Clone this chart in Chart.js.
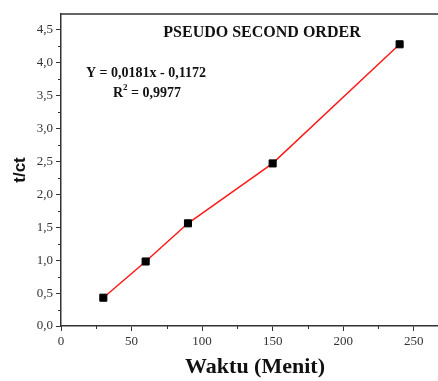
<!DOCTYPE html>
<html>
<head>
<meta charset="utf-8">
<script src="https://cdn.jsdelivr.net/npm/chart.js@4"></script>
<style>
  html, body { margin: 0; padding: 0; background: #fff; overflow: hidden; }
  #wrap { width: 438px; height: 381px; overflow: hidden; }
</style>
</head>
<body>
<div id="wrap"><canvas id="chart" width="455" height="381"></canvas></div>
<script>
// data
const waktu = [30, 60, 90, 150, 240];
const tct = [0.43, 0.98, 1.56, 2.47, 4.28];
const xTicks = [0, 50, 100, 150, 200, 250];
const yTicks = [0, 0.5, 1, 1.5, 2, 2.5, 3, 3.5, 4, 4.5];
const titleText = 'PSEUDO SECOND ORDER';
const eqText = 'Y = 0,0181x - 0,1172';
const r2Value = ' = 0,9977';

const axisColor = '#333';
const serif = '"Liberation Serif", "Times New Roman", serif';
Chart.defaults.font.family = serif;

// small ticks half way between the labelled ones, and the text on the plot
const extras = {
  id: 'extras',
  afterDraw(chart) {
    const { ctx, chartArea: a, scales } = chart;
    ctx.save();
    ctx.strokeStyle = axisColor;
    ctx.lineWidth = 1;
    for (let i = 0; i < xTicks.length; i++) {
      const v = xTicks[i] + 25;
      if (v > scales.x.max) break;
      const px = Math.round(scales.x.getPixelForValue(v)) + 0.5;
      ctx.beginPath();
      ctx.moveTo(px, a.bottom);
      ctx.lineTo(px, a.bottom + 3);
      ctx.stroke();
    }
    for (let i = 0; i < yTicks.length; i++) {
      const v = yTicks[i] + 0.25;
      if (v > scales.y.max) break;
      const py = Math.round(scales.y.getPixelForValue(v)) + 0.5;
      ctx.beginPath();
      ctx.moveTo(a.left, py);
      ctx.lineTo(a.left - 3, py);
      ctx.stroke();
    }
    // top frame line
    ctx.lineWidth = 1.5;
    ctx.beginPath();
    ctx.moveTo(a.left, a.top);
    ctx.lineTo(a.right, a.top);
    ctx.stroke();

    ctx.fillStyle = '#111';
    ctx.textBaseline = 'middle';
    ctx.font = 'bold 16px ' + serif;
    ctx.textAlign = 'center';
    ctx.fillText(titleText, 262, 33);
    ctx.font = 'bold 14px ' + serif;
    ctx.fillText(eqText, 146, 73);
    ctx.textAlign = 'left';
    ctx.fillText('R', 113, 93);
    const rw = ctx.measureText('R').width;
    ctx.font = 'bold 9px ' + serif;
    ctx.fillText('2', 113 + rw, 88);
    const sw = ctx.measureText('2').width;
    ctx.font = 'bold 14px ' + serif;
    ctx.fillText(r2Value, 113 + rw + sw, 93);
    ctx.restore();
  },
};

new Chart(document.getElementById('chart'), {
  type: 'scatter',
  data: {
    datasets: [{
      data: waktu.map((x, i) => ({ x: x, y: tct[i] })),
      showLine: true,
      borderColor: '#ff1a1a',
      borderWidth: 1.5,
      pointStyle: 'rect',
      pointRadius: 5,
      pointBackgroundColor: '#000',
      pointBorderColor: '#000',
      pointBorderWidth: 1,
    }],
  },
  options: {
    responsive: false,
    animation: false,
    layout: { padding: { top: 14, right: 0, left: 0, bottom: 0 } },
    plugins: { legend: { display: false }, tooltip: { enabled: false } },
    scales: {
      x: {
        type: 'linear',
        min: 0,
        max: 275,
        afterBuildTicks: (s) => { s.ticks = xTicks.map((v) => ({ value: v })); },
        afterFit: (s) => { s.height = 55; s.paddingLeft = 0; s.paddingRight = 0; },
        grid: { drawOnChartArea: false, tickLength: 5, tickColor: axisColor },
        border: { color: axisColor, width: 1.5 },
        ticks: { color: axisColor, padding: 3, font: { family: serif, size: 13 } },
        title: {
          display: true,
          text: 'Waktu (Menit)',
          color: '#111',
          padding: { top: 12, bottom: 0 },
          font: { family: serif, size: 22, weight: 'bold' },
        },
      },
      y: {
        min: 0,
        max: 4.74,
        afterBuildTicks: (s) => { s.ticks = yTicks.map((v) => ({ value: v })); },
        afterFit: (s) => { s.width = 61; },
        grid: { drawOnChartArea: false, tickLength: 5, tickColor: axisColor },
        border: { color: axisColor, width: 1.5 },
        ticks: {
          color: axisColor,
          padding: 3,
          font: { family: serif, size: 13 },
          callback: (v) => v.toFixed(1).replace('.', ','),
        },
        title: {
          display: true,
          text: 't/ct',
          color: '#111',
          padding: { top: 10, bottom: 0 },
          font: { family: '"Liberation Sans", Arial, sans-serif', size: 17, weight: 'bold' },
        },
      },
    },
  },
  plugins: [extras],
});
</script>
</body>
</html>
